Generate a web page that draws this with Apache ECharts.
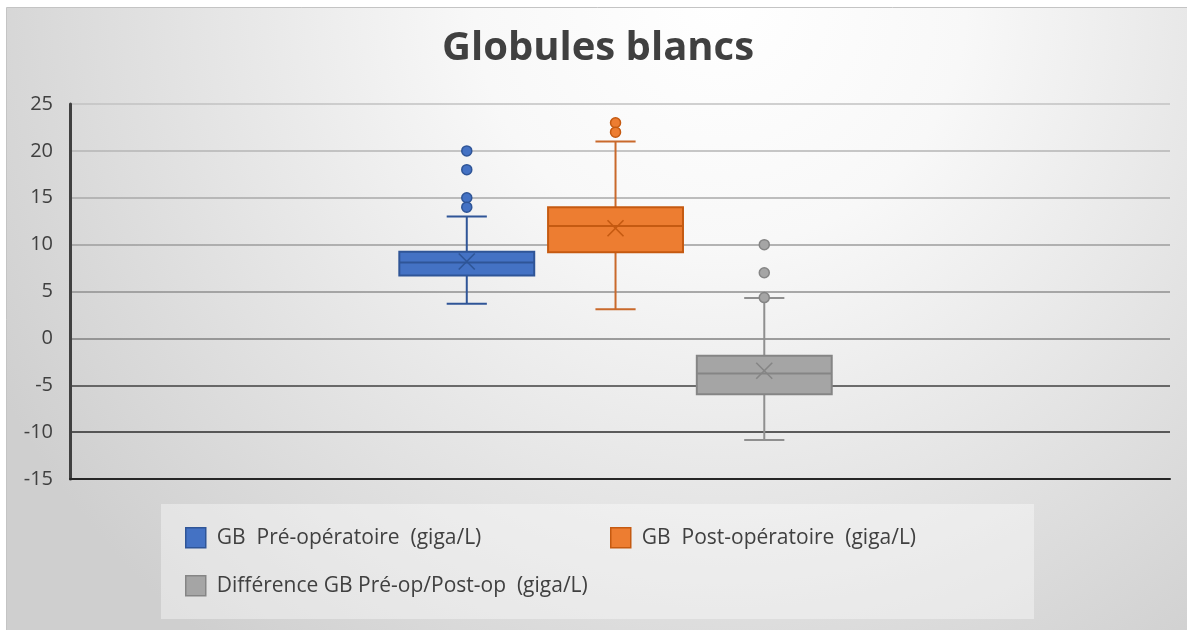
<!DOCTYPE html>
<html>
<head>
<meta charset="utf-8">
<script src="https://cdn.jsdelivr.net/npm/echarts@6/dist/echarts.min.js"></script>
<style>html,body{margin:0;padding:0;background:#fff;}#c{width:1187px;height:630px;}</style>
</head>
<body>
<div id="c"></div>
<script>
// ---- data ----
const titleText = 'Globules blancs';
const seriesNames = ['GB  Pré-opératoire  (giga/L)', 'GB  Post-opératoire  (giga/L)', 'Différence GB Pré-op/Post-op  (giga/L)'];
const groupKeys = ['pre', 'post', 'diff'];
// [min whisker, Q1, median, Q3, max whisker, mean]
const preStats = [3.7, 6.7, 8.1, 9.25, 13, 8.2];
const postStats = [3.1, 9.2, 12, 14, 21, 11.75];
const diffStats = [-10.85, -5.95, -3.75, -1.85, 4.3, -3.45];
const preOutliers = [20, 18, 15, 14];
const postOutliers = [23, 22];
const diffOutliers = [10, 7, 4.35];
const yMin = -15, yMax = 25, yStep = 5;

// ---- styles ----
const fills = ['#4472c4', '#ed7d31', '#a5a5a5'];
const borders = ['#2f5597', '#c55a11', '#858585'];
const whiskerColors = ['#2f5597', '#c9692b', '#8f8f8f'];
const gridColors = ['#262626', '#2b2b2b', '#404040', '#7f7f7f', '#8f8f8f', '#9c9c9c', '#a8a8a8', '#b5b5b5', '#c2c2c2'];
const FONT = 'Open Sans';

const statsList = [preStats, postStats, diffStats];
const outList = [preOutliers, postOutliers, diffOutliers];

function makeRender(i) {
  return function (params, api) {
    const x = api.value(0);
    const pMin = api.coord([x, api.value(1)]);
    const pQ1 = api.coord([x, api.value(2)]);
    const pMed = api.coord([x, api.value(3)]);
    const pQ3 = api.coord([x, api.value(4)]);
    const pMax = api.coord([x, api.value(5)]);
    const pMean = api.coord([x, api.value(6)]);
    const band = api.size([1, 0])[0];
    const cx = pMed[0];
    const bw = band * 0.907;
    const cw = band * 0.27;
    const xs = 8;
    const wl = { stroke: whiskerColors[i], lineWidth: 2 };
    return {
      type: 'group',
      children: [
        { type: 'line', shape: { x1: cx, y1: pQ3[1], x2: cx, y2: pMax[1] }, style: wl },
        { type: 'line', shape: { x1: cx, y1: pQ1[1], x2: cx, y2: pMin[1] }, style: wl },
        { type: 'line', shape: { x1: cx - cw / 2, y1: pMax[1], x2: cx + cw / 2, y2: pMax[1] }, style: wl },
        { type: 'line', shape: { x1: cx - cw / 2, y1: pMin[1], x2: cx + cw / 2, y2: pMin[1] }, style: wl },
        { type: 'rect', shape: { x: cx - bw / 2, y: pQ3[1], width: bw, height: pQ1[1] - pQ3[1] },
          style: { fill: fills[i], stroke: borders[i], lineWidth: 2 } },
        { type: 'line', shape: { x1: cx - bw / 2, y1: pMed[1], x2: cx + bw / 2, y2: pMed[1] },
          style: { stroke: borders[i], lineWidth: 2 } },
        { type: 'line', shape: { x1: cx - xs, y1: pMean[1] - xs, x2: cx + xs, y2: pMean[1] + xs },
          style: { stroke: borders[i], lineWidth: 1.6 } },
        { type: 'line', shape: { x1: cx - xs, y1: pMean[1] + xs, x2: cx + xs, y2: pMean[1] - xs },
          style: { stroke: borders[i], lineWidth: 1.6 } }
      ]
    };
  };
}

const series = [];
statsList.forEach(function (s, i) {
  series.push({
    name: seriesNames[i],
    type: 'custom',
    xAxisIndex: 1, yAxisIndex: 1,
    renderItem: makeRender(i),
    itemStyle: { color: fills[i], borderColor: borders[i] },
    encode: { x: 0, y: [1, 2, 3, 4, 5, 6] },
    data: [[i].concat(s)],
    z: 3
  });
});
outList.forEach(function (o, i) {
  series.push({
    name: groupKeys[i] + '-outliers',
    type: 'scatter',
    xAxisIndex: 1, yAxisIndex: 1,
    symbol: 'circle', symbolSize: 10,
    itemStyle: { color: fills[i], borderColor: borders[i], borderWidth: 1.5, opacity: 1 },
    data: o.map(function (v) { return [i, v]; }),
    z: 4
  });
});

function legendFor(i, left, top) {
  return {
    left: left, top: top, padding: 0, itemGap: 0,
    itemWidth: 20, itemHeight: 20, icon: 'rect',
    selectedMode: false,
    textStyle: { fontFamily: FONT, fontSize: 21, color: '#404040', padding: [0, 0, 0, 6] },
    data: [{ name: seriesNames[i], itemStyle: { color: fills[i], borderColor: borders[i], borderWidth: 1.5 } }]
  };
}

const chart = echarts.init(document.getElementById('c'), null, { renderer: 'canvas' });
chart.setOption({
  animation: false,
  backgroundColor: '#ffffff',
  graphic: [
    { type: 'rect', z: -100, silent: true, shape: { x: 6.5, y: 7.5, width: 1200, height: 640 },
      style: { fill: { type: 'radial', x: 720, y: 0, r: 820, global: true,
        colorStops: [{ offset: 0, color: '#ffffff' }, { offset: 0.3, color: '#f8f8f8' }, { offset: 1, color: '#cfcfcf' }] },
        stroke: '#c4c4c4', lineWidth: 1 } },
    { type: 'rect', z: -99, silent: true, shape: { x: 161, y: 504, width: 873, height: 115 },
      style: { fill: 'rgba(255,255,255,0.38)' } }
  ],
  title: {
    text: titleText, left: 593, top: 24, textAlign: 'center',
    textStyle: { fontFamily: FONT, fontSize: 40, fontWeight: 'bold', color: '#404040' }
  },
  legend: [legendFor(0, 185, 527), legendFor(1, 610, 527), legendFor(2, 185, 575)],
  grid: [
    { left: 70, right: 17, top: 104, bottom: 151 },
    { left: 392.4, width: 446.25, top: 104, bottom: 151 }
  ],
  xAxis: [
    { type: 'category', gridIndex: 0, data: [''],
      axisLine: { show: true, onZero: false, lineStyle: { color: '#262626', width: 2 } },
      axisTick: { show: false }, axisLabel: { show: false }, splitLine: { show: false } },
    { type: 'category', gridIndex: 1, data: seriesNames, show: false }
  ],
  yAxis: [
    { type: 'value', gridIndex: 0, min: yMin, max: yMax, interval: yStep,
      axisLine: { show: true, onZero: false, lineStyle: { color: '#404040', width: 3 } },
      axisTick: { show: false },
      axisLabel: { fontFamily: FONT, fontSize: 20, color: '#404040', margin: 17 },
      splitLine: { show: true, lineStyle: { color: gridColors, width: 1.6 } } },
    { type: 'value', gridIndex: 1, min: yMin, max: yMax, interval: yStep, show: false,
      splitLine: { show: false } }
  ],
  series: series
});
</script>
</body>
</html>
